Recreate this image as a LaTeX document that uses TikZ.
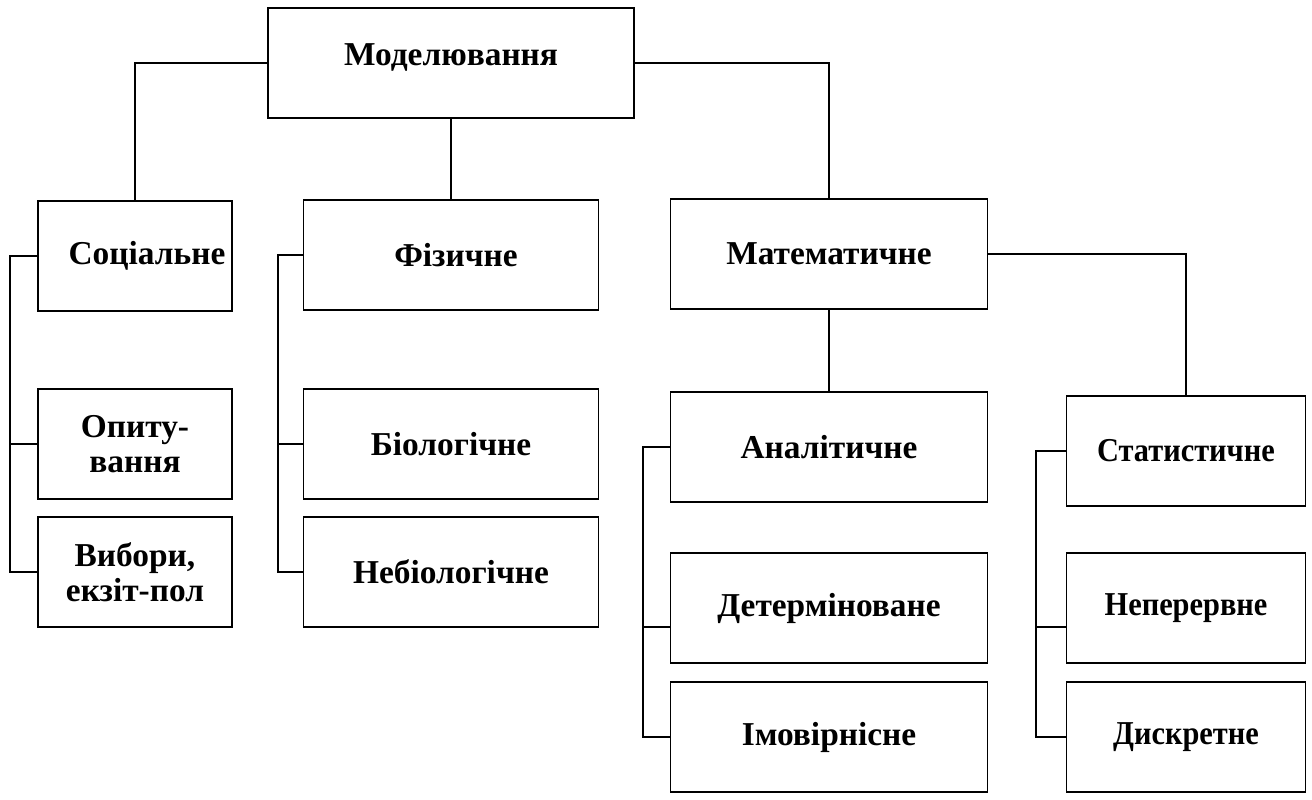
\documentclass[tikz,border=0pt]{standalone}
\usepackage{fontspec}
\setmainfont{Liberation Serif}
\newfontfamily\condfont[FakeStretch=0.91]{Liberation Serif}
\usepackage{tikz}
\usetikzlibrary{positioning}

\tikzset{
  mbox/.style={rectangle, draw=black, line width=1pt, fill=white,
    minimum height=2.2cm, align=center,
    font=\bfseries\fontsize{19}{20}\selectfont},
  sbox/.style={mbox, minimum width=4.78cm,
    font=\condfont\bfseries\fontsize{19}{20}\selectfont},
  wire/.style={draw=black, line width=0.8pt}
}

\begin{document}
\begin{tikzpicture}[x=0.02cm, y=-0.02cm]
  \useasboundingbox (0,0) rectangle (1312,799);
  % top level
  \node[mbox, minimum width=7.32cm, text depth=10pt] (model) at (451,63) {Моделювання};
  % second level
  \node[mbox, minimum width=3.88cm] (soc) at (135,256) {\hspace*{0.48cm}Соціальне};
  \node[mbox, minimum width=5.9cm] (phys) at (451,255) {\hspace*{0.2cm}Фізичне};
  \node[mbox, minimum width=6.34cm] (math) at (829,254) {Математичне};
  % social branch
  \node[mbox, minimum width=3.88cm] (poll) at (135,444) {Опиту-\\вання};
  \node[mbox, minimum width=3.88cm] (vote) at (135,572) {Вибори,\\екзіт-пол};
  % physical branch
  \node[mbox, minimum width=5.9cm] (bio) at (451,444) {Біологічне};
  \node[mbox, minimum width=5.9cm] (nonbio) at (451,572) {Небіологічне};
  % mathematical branch
  \node[mbox, minimum width=6.34cm] (anal) at (829,447) {Аналітичне};
  \node[sbox] (stat) at (1186,451) {Статистичне};
  \node[mbox, minimum width=6.34cm] (determ) at (829,608) {Детерміноване};
  \node[mbox, minimum width=6.34cm] (prob) at (829,737) {Імовірнісне};
  \node[sbox] (cont) at (1186,608) {Неперервне};
  \node[sbox] (discr) at (1186,737) {Дискретне};

  % spines of the brackets
  \coordinate (socspine) at (10,256);
  \coordinate (physspine) at (278,255);
  \coordinate (analspine) at (643,447);
  \coordinate (statspine) at (1036,451);

  \draw[wire] (model.west) -| (soc.north);
  \draw[wire] (model.south) -- (phys.north);
  \draw[wire] (model.east) -| (math.north);
  \draw[wire] (math.south) -- (anal.north);
  \draw[wire] (math.east) -| (stat.north);

  \draw[wire] (soc.west) -- (socspine) |- (vote.west);
  \draw[wire] (poll.west) -- (poll.west -| socspine);
  \draw[wire] (phys.west) -- (physspine) |- (nonbio.west);
  \draw[wire] (bio.west) -- (bio.west -| physspine);
  \draw[wire] (anal.west) -- (analspine) |- (prob.west);
  \draw[wire] ([yshift=-0.38cm]determ.west) -- ([yshift=-0.38cm]determ.west -| analspine);
  \draw[wire] (stat.west) -- (statspine) |- (discr.west);
  \draw[wire] ([yshift=-0.38cm]cont.west) -- ([yshift=-0.38cm]cont.west -| statspine);
\end{tikzpicture}
\end{document}
